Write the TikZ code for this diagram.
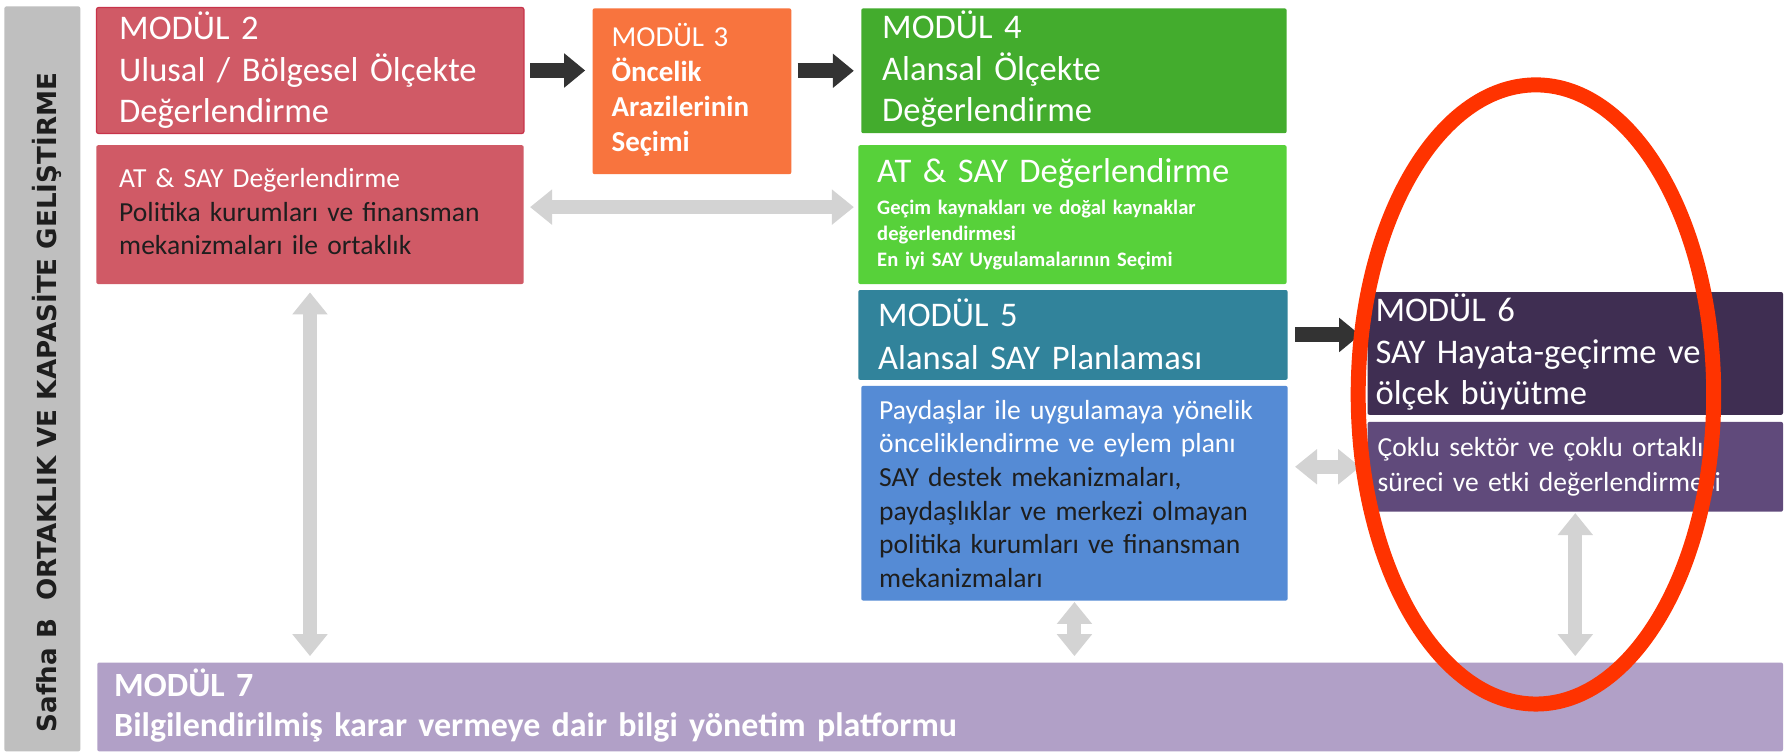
\documentclass[tikz,border=0pt]{standalone}
\usepackage{fontspec}
\setmainfont{Carlito}
\newfontfamily\sidefont{DejaVu Sans}
\usetikzlibrary{arrows.meta}

\definecolor{sidegray}{HTML}{BFBFBF}
\definecolor{modred}{HTML}{D05A66}
\definecolor{modredline}{HTML}{C8334A}
\definecolor{modorange}{HTML}{F8743E}
\definecolor{modgreen}{HTML}{43AC2D}
\definecolor{modlime}{HTML}{57D13A}
\definecolor{modteal}{HTML}{31839B}
\definecolor{modblue}{HTML}{558BD5}
\definecolor{modplum}{HTML}{3F2E52}
\definecolor{modviolet}{HTML}{604A7B}
\definecolor{modlilac}{HTML}{B1A0C7}
\definecolor{arrowdark}{HTML}{333333}
\definecolor{arrowlight}{HTML}{D3D3D3}
\definecolor{textdark}{HTML}{1E1E1E}
\definecolor{ringred}{HTML}{FF3300}

\begin{document}
\begin{tikzpicture}[x=0.5pt, y=-0.5pt,
    modbox/.style={anchor=north west, inner sep=0, rounded corners=1pt},
    modtext/.style={anchor=base west, inner sep=0, align=left,
      text=white, text width=205pt},
    big/.style={font=\fontsize{17.3}{20.75}\selectfont},
    small/.style={font=\fontsize{13.8}{16.8}\selectfont},
    sidetext/.style={rotate=90, anchor=base, inner sep=0, text=textdark,
      font=\sidefont\bfseries\fontsize{13.1}{15}\selectfont},
    flow/.style={draw=arrowdark, line width=7.5pt,
      -{Triangle[length=10.5pt,width=16.5pt]}},
    link/.style={draw=arrowlight, line width=7pt,
      {Triangle[length=11pt,width=17pt]}-{Triangle[length=11pt,width=17pt]}}]

  \fill[white] (0,0) rectangle (1787,754);

  % side band
  \node[modbox, fill=sidegray, minimum width=38pt, minimum height=373pt] (side) at (4,6) {};
  \node[sidetext] (sidetxt) at (57,403) {Safha B\ \ ORTAKLIK VE KAPASİTE GELİŞTİRME};

  % module boxes
  \node[modbox, fill=modred, draw=modredline, line width=0.6pt,
    minimum width=214pt, minimum height=63pt] (m2) at (96,7) {};
  \node[modbox, fill=modred, minimum width=214pt, minimum height=69.5pt] (atred) at (96,145) {};
  \node[modbox, fill=modorange, minimum width=99.5pt, minimum height=83pt] (m3) at (593,8) {};
  \node[modbox, fill=modgreen, minimum width=213pt, minimum height=62.5pt] (m4) at (862,8) {};
  \node[modbox, fill=modlime, minimum width=214.5pt, minimum height=69.5pt] (atgreen) at (859,145) {};
  \node[modbox, fill=modteal, minimum width=215pt, minimum height=45pt] (m5) at (859,290) {};
  \node[modbox, fill=modblue, minimum width=213.5pt, minimum height=107.5pt] (plan) at (862,386) {};
  \node[modbox, fill=modplum, minimum width=208pt, minimum height=61.5pt] (m6) at (1369,292) {};
  \node[modbox, fill=modviolet, minimum width=208pt, minimum height=45pt] (scale) at (1369,422) {};
  \node[modbox, fill=modlilac, minimum width=844pt, minimum height=44.5pt] (m7) at (97,663) {};

  % texts
  \node[modtext, big] (m2txt) at (119,40)
    {MODÜL 2\\Ulusal / Bölgesel Ölçekte\\Değerlendirme};
  \node[modtext, small] (atredtxt) at (119,188)
    {AT \& SAY Değerlendirme\\\textcolor{textdark}{Politika kurumları ve finansman}\\\textcolor{textdark}{mekanizmaları ile ortaklık}};
  \node[modtext, font=\fontsize{14.5}{17.5}\selectfont] (m3txt) at (612,47)
    {MODÜL 3\\\textbf{Öncelik}\\\textbf{Arazilerinin}\\\textbf{Seçimi}};
  \node[modtext, big] (m4txt) at (883,39)
    {MODÜL 4\\Alansal Ölçekte\\Değerlendirme};
  \node[modtext, big] (atgreentxt) at (878,183) {AT \& SAY Değerlendirme};
  \node[modtext, font=\bfseries\fontsize{10.3}{13}\selectfont] (atgreensub) at (878,215)
    {Geçim kaynakları ve doğal kaynaklar\\değerlendirmesi\\En iyi SAY Uygulamalarının Seçimi};
  \node[modtext, font=\fontsize{17.3}{21.5}\selectfont] (m5txt) at (879,327)
    {MODÜL 5\\Alansal SAY Planlaması};
  \node[modtext, small] (plantxt) at (880,420)
    {Paydaşlar ile uygulamaya yönelik\\önceliklendirme ve eylem planı\\\textcolor{textdark}{SAY destek mekanizmaları,}\\\textcolor{textdark}{paydaşlıklar ve merkezi olmayan}\\\textcolor{textdark}{politika kurumları ve finansman}\\\textcolor{textdark}{mekanizmaları}};
  \node[modtext, big] (m6txt) at (1377,322)
    {MODÜL 6\\SAY Hayata-geçirme ve\\ölçek büyütme};
  \node[modtext, font=\fontsize{13.8}{17.5}\selectfont] (scaletxt) at (1379,457)
    {Çoklu sektör ve çoklu ortaklık\\süreci ve etki değerlendirmesi};
  \node[modtext, text width=440pt, font=\bfseries\fontsize{17}{20}\selectfont] (m7txt) at (114,697)
    {MODÜL 7\\Bilgilendirilmiş karar vermeye dair bilgi yönetim platformu};

  % flow arrows
  \draw[flow, shorten <=3pt, shorten >=3.5pt] (m2.east) -- (m2.east -| m3.west);
  \draw[flow, shorten <=3pt, shorten >=3.5pt] (m3.east |- m4.west) -- (m4.west);
  \draw[flow, shorten <=3.5pt, shorten >=3.5pt] (m5.east) -- (m5.east -| m6.west);

  % exchange arrows
  \draw[link, shorten <=3pt, shorten >=2pt] ([yshift=3.75pt]atred.east) -- ([yshift=3.75pt]atgreen.west);
  \draw[link, shorten <=3.5pt, shorten >=3.5pt] (scale.west -| plan.east) -- (scale.west);
  \draw[link, shorten <=4pt, shorten >=3pt] (atred.south) -- (atred.south |- m7.north);
  \draw[link, shorten <=0.5pt, shorten >=3pt] (plan.south) -- (plan.south |- m7.north);
  \draw[link, shorten <=0.5pt, shorten >=3pt] (scale.south) -- (scale.south |- m7.north);

  % highlight ring
  \draw[ringred, line width=7.5pt] (1538,395) ellipse [x radius=89pt, y radius=155pt];
\end{tikzpicture}
\end{document}
